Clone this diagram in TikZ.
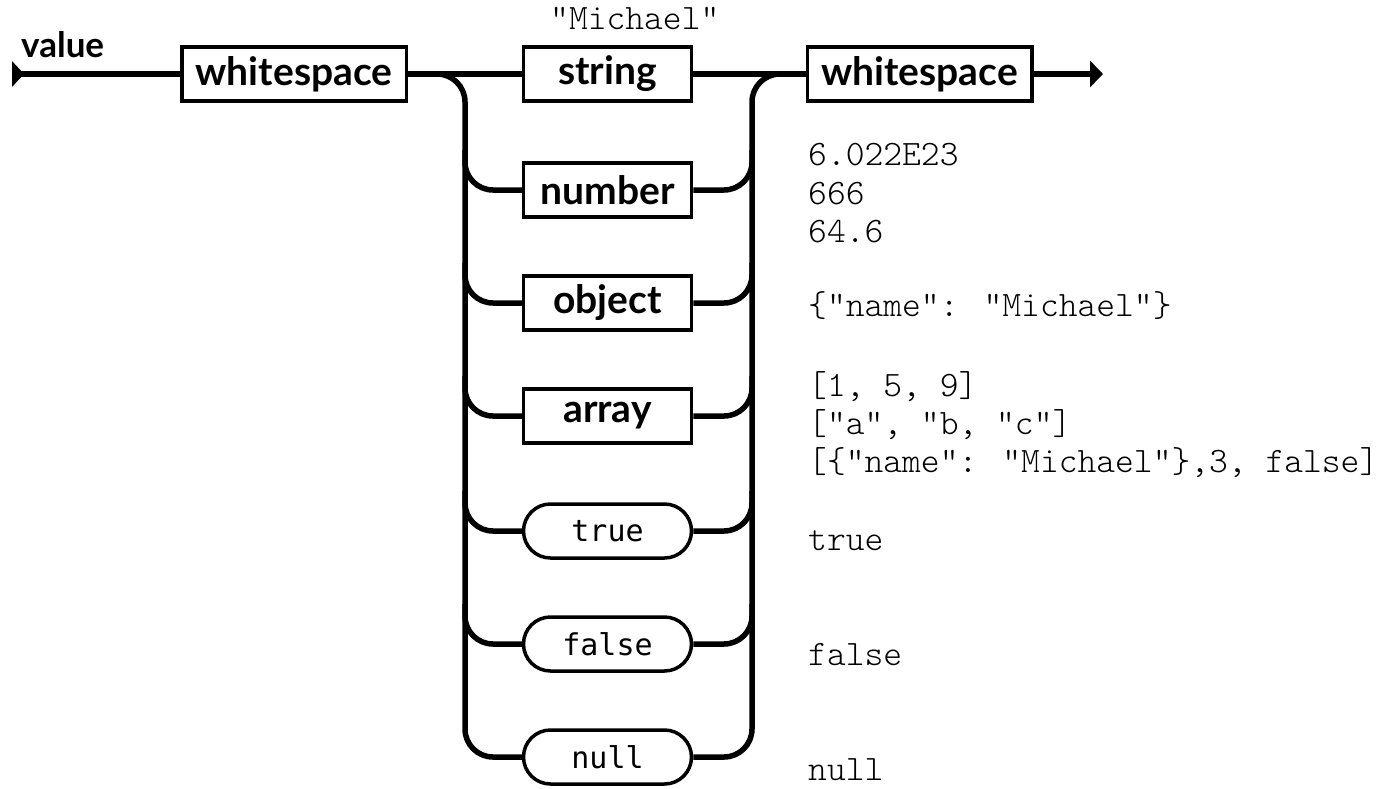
\documentclass[tikz,border=0pt]{standalone}
\usepackage{fontspec}
\usepackage{tikz}
\usetikzlibrary{positioning,arrows.meta}
\newfontfamily\railfont{Lato}
\newfontfamily\codefont{Latin Modern Mono Light}[Ligatures=TeXOff]
\newfontfamily\litfont{DejaVu Sans Mono}[Ligatures=TeXOff]

\begin{document}
\begin{tikzpicture}[x=1pt,y=-1pt,node distance=113pt,on grid,
    rail/.style={line width=5.5pt},
    rule/.style={draw,line width=3.5pt,minimum width=168pt,minimum height=54pt,inner sep=0pt,
        font=\railfont\bfseries\fontsize{39}{40}\selectfont},
    lit/.style={rule,rounded corners=27pt,font=\litfont\fontsize{30}{32}\selectfont},
    example/.style={anchor=base west,inner sep=0pt,font=\codefont\fontsize{35.8}{38}\selectfont}]
    \useasboundingbox (0,0) rectangle (1389,788);
    \coordinate (in) at (12,74);
    \coordinate (lbus) at (465,74);
    \coordinate (rbus) at (752,74);
    \coordinate (out) at (1103,74);
    \node[anchor=base west,inner sep=0pt,font=\railfont\bfseries\fontsize{35}{36}\selectfont] (title) at (21,57) {value};
    \node[rule,minimum width=224.5pt] (ws_in) at (294,74) {whitespace};
    \node[rule] (string) at (607.5,74) {string};
    \node[rule,minimum width=224.5pt] (ws_out) at (919.5,74) {whitespace};
    \node[rule] (number) [below=116pt of string] {number};
    \node[rule] (object) [below=of number] {object};
    \node[rule] (array) [below=of object] {array};
    \node[lit] (true) [below=115pt of array] {true};
    \node[lit] (false) [below=of true] {false};
    \node[lit] (null) [below=of false] {null};
    \fill (in) ++(0,-13) -- ++(12,13) -- ++(-12,13) -- cycle;
    \draw[rail] (in) -- (ws_in);
    \draw[rail] (ws_in) -- (string);
    \draw[rail] (string) -- (ws_out);
    \draw[rail,-{Triangle[length=13pt,width=26pt]}] (ws_out) -- (out);
    \draw[rail,rounded corners=28pt] (ws_in.east) -| (lbus |- null.west) -- (null.west);
    \draw[rail,rounded corners=28pt] (null.east) -| (rbus) -- (ws_out.west);
    \foreach \v in {number,object,array,true,false}{
        \draw[rail,rounded corners=28pt] (lbus |- \v.west) ++(0,-40) |- (\v.west);
        \draw[rail,rounded corners=28pt] (rbus |- \v.east) ++(0,-40) |- (\v.east);
    }
    \node[example] (str_ex) at (550,29) {"Michael"};
    \node[example] (num_ex1) at (808,165) {6.022E23};
    \node[example] (num_ex2) at (808,204) {666};
    \node[example] (num_ex3) at (808,242) {64.6};
    \node[example] (obj_ex) at (808,316) {\{"name": "Michael"\}};
    \node[example] (arr_ex1) at (808,396) {[1, 5, 9]};
    \node[example] (arr_ex2) at (808,434) {["a", "b, "c"]};
    \node[example] (arr_ex3) at (808,472) {[\{"name": "Michael"\},3, false]};
    \node[example] (true_ex) at (808,550) {true};
    \node[example] (false_ex) at (808,665) {false};
    \node[example] (null_ex) at (808,780) {null};
\end{tikzpicture}
\end{document}
